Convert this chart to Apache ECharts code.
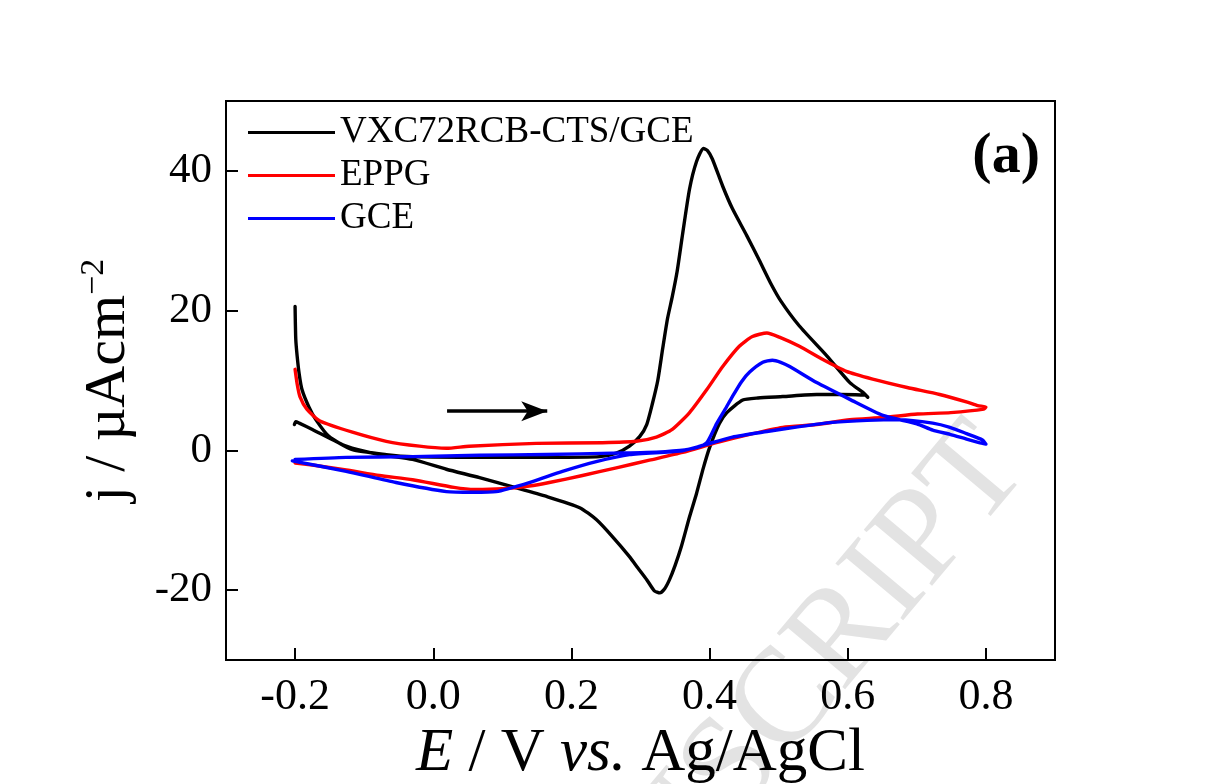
<!DOCTYPE html>
<html>
<head>
<meta charset="utf-8">
<script src="https://cdn.jsdelivr.net/npm/echarts@6/dist/echarts.min.js"></script>
<style>
  html, body { margin: 0; padding: 0; background: #fff; }
  #chart { width: 1217px; height: 784px; }
</style>
</head>
<body>
<div id="chart"></div>
<script>
// Cyclic voltammograms: potential E (V vs. Ag/AgCl) and current density j (µA cm^-2)
const seriesNames = ['VXC72RCB-CTS/GCE', 'EPPG', 'GCE'];
const seriesColors = ['#000000', '#ff0000', '#0000ff'];

// VXC72RCB-CTS/GCE: forward sweep from -0.2 V to 0.63 V, then back
const vxcCurve = [
  [-0.200, 20.6], [-0.199, 15.9], [-0.197, 13.5], [-0.194, 10.9], [-0.190, 8.7],
  [-0.180, 6.2], [-0.170, 4.4], [-0.151, 2.0], [-0.117, 0.1], [-0.068, -0.6],
  [-0.030, -0.9], [0.067, -1.0], [0.168, -1.0], [0.241, -0.9], [0.265, -0.4],
  [0.284, 0.6], [0.299, 2.0], [0.309, 3.7], [0.317, 6.6], [0.325, 10.0],
  [0.332, 14.5], [0.339, 18.8], [0.346, 22.0], [0.353, 25.6], [0.361, 31.0],
  [0.371, 37.4], [0.381, 41.3], [0.391, 43.2], [0.397, 42.9], [0.404, 41.7],
  [0.419, 37.8], [0.433, 34.6], [0.454, 30.7], [0.472, 27.2], [0.488, 24.0],
  [0.503, 21.4], [0.530, 17.8], [0.570, 13.5], [0.603, 9.7], [0.622, 8.3],
  [0.629, 7.6], [0.625, 7.9], [0.590, 8.0], [0.555, 8.0], [0.506, 7.7],
  [0.470, 7.5], [0.448, 7.2], [0.425, 5.4], [0.414, 3.8], [0.400, 0.4],
  [0.391, -2.5], [0.381, -6.2], [0.371, -9.5], [0.359, -13.8], [0.350, -16.5],
  [0.342, -18.5], [0.335, -19.8], [0.328, -20.4], [0.320, -20.1], [0.309, -18.5],
  [0.296, -16.8], [0.284, -15.2], [0.259, -12.3], [0.236, -9.9], [0.212, -8.2],
  [0.164, -6.6], [0.114, -5.2], [0.067, -3.9], [0.019, -2.7], [-0.030, -1.3],
  [-0.078, -0.6], [-0.126, 0.6], [-0.175, 3.0], [-0.194, 3.9], [-0.199, 4.1],
  [-0.201, 3.7]
];

// EPPG: -0.2 V to 0.8 V and back
const eppgCurve = [
  [-0.200, 11.6], [-0.197, 9.5], [-0.193, 7.7], [-0.183, 5.9], [-0.164, 4.2],
  [-0.117, 2.6], [-0.068, 1.3], [-0.020, 0.6], [0.019, 0.3], [0.052, 0.6],
  [0.149, 1.0], [0.245, 1.1], [0.294, 1.3], [0.323, 1.9], [0.346, 3.0],
  [0.371, 5.4], [0.396, 8.7], [0.419, 12.0], [0.443, 14.9], [0.462, 16.3],
  [0.483, 16.8], [0.501, 16.2], [0.530, 14.9], [0.564, 13.0], [0.598, 11.3],
  [0.636, 10.2], [0.686, 9.0], [0.733, 8.0], [0.773, 6.9], [0.788, 6.4],
  [0.800, 6.2], [0.797, 5.9], [0.749, 5.4], [0.701, 5.2], [0.651, 4.7],
  [0.603, 4.4], [0.555, 3.7], [0.506, 3.3], [0.458, 2.3], [0.410, 1.1],
  [0.361, -0.3], [0.313, -1.4], [0.265, -2.5], [0.216, -3.6], [0.168, -4.6],
  [0.139, -5.1], [0.100, -5.5], [0.060, -5.6], [0.030, -5.3], [-0.030, -4.2],
  [-0.078, -3.6], [-0.126, -2.8], [-0.175, -2.1], [-0.200, -1.8]
];

// GCE: -0.2 V to 0.8 V and back
const gceCurve = [
  [-0.200, -1.3], [-0.126, -1.0], [-0.030, -0.9], [0.067, -0.7], [0.164, -0.6],
  [0.259, -0.4], [0.309, -0.3], [0.357, 0.0], [0.381, 0.4], [0.396, 1.1],
  [0.410, 3.8], [0.422, 5.8], [0.433, 7.7], [0.446, 9.8], [0.458, 11.2],
  [0.477, 12.6], [0.491, 12.9], [0.503, 12.6], [0.516, 12.0], [0.555, 9.7],
  [0.603, 7.3], [0.651, 5.0], [0.700, 3.8], [0.723, 2.9], [0.748, 2.3],
  [0.772, 1.6], [0.790, 1.1], [0.800, 0.9], [0.795, 1.5], [0.772, 2.4],
  [0.748, 3.3], [0.723, 3.9], [0.675, 4.4], [0.628, 4.3], [0.578, 4.0],
  [0.530, 3.4], [0.483, 2.7], [0.433, 1.9], [0.386, 0.6], [0.357, -0.1],
  [0.284, -0.6], [0.236, -1.6], [0.187, -3.0], [0.139, -4.6], [0.091, -5.9],
  [0.057, -6.0], [0.019, -5.9], [-0.054, -4.6], [-0.126, -3.0], [-0.204, -1.5]
];

const xTicks = [-0.2, 0.0, 0.2, 0.4, 0.6, 0.8];
const yTicks = [-20, 0, 20, 40];

// Sweep-direction arrow, [E, j] of tail and head
const sweepArrow = [[0.020, 5.6], [0.165, 5.6]];

const curves = [vxcCurve, eppgCurve, gceCurve];
const serif = "'Liberation Serif', 'Times New Roman', Times, serif";

const chart = echarts.init(document.getElementById('chart'), null, { renderer: 'canvas' });

const series = curves.map((data, i) => ({
  name: seriesNames[i],
  type: 'line',
  data: data,
  showSymbol: false,
  symbol: 'none',
  smooth: 0.2,
  z: 3 + i,
  lineStyle: { color: seriesColors[i], width: 3.4, join: 'round', cap: 'round' },
  itemStyle: { color: seriesColors[i] },
  emphasis: { disabled: true }
}));

series[0].markLine = {
  silent: true,
  symbol: ['none', 'arrow'],
  symbolSize: [15, 26],
  label: { show: false },
  lineStyle: { color: '#000', width: 3.5, type: 'solid' },
  data: [[{ coord: sweepArrow[0] }, { coord: sweepArrow[1] }]]
};

chart.setOption({
  backgroundColor: '#ffffff',
  animation: false,
  grid: {
    left: 226, right: 162, top: 101, bottom: 124,
    outerBoundsMode: 'none',
    containLabel: false,
    show: true, borderColor: '#000', borderWidth: 2, backgroundColor: 'transparent'
  },
  legend: {
    orient: 'vertical',
    left: 243, top: 109,
    icon: 'rect',
    itemWidth: 87, itemHeight: 3,
    itemGap: 6,
    data: seriesNames,
    textStyle: { fontFamily: serif, fontSize: 37, color: '#000', lineHeight: 37 }
  },
  xAxis: {
    type: 'value',
    min: -0.3, max: 0.9,
    name: '{it|E} / V {it|vs.} Ag/AgCl',
    nameLocation: 'middle',
    nameGap: 59,
    nameTextStyle: {
      fontFamily: serif, fontSize: 61, color: '#000',
      rich: { it: { fontFamily: serif, fontSize: 61, fontStyle: 'italic', color: '#000' } }
    },
    splitLine: { show: false },
    axisLine: { show: true, onZero: false, lineStyle: { color: '#000', width: 2 } },
    axisTick: { show: true, inside: true, length: 12, lineStyle: { width: 2, color: '#000' }, customValues: xTicks },
    axisLabel: {
      show: true, margin: 15, fontFamily: serif, fontSize: 44, color: '#000',
      customValues: xTicks,
      formatter: v => v.toFixed(1)
    }
  },
  yAxis: {
    type: 'value',
    min: -30, max: 50,
    name: 'j / µAcm{sup|−2}',
    nameLocation: 'middle',
    nameGap: 85,
    nameRotate: 90,
    nameTextStyle: {
      fontFamily: serif, fontSize: 58, color: '#000',
      rich: { sup: { fontFamily: serif, fontSize: 34, color: '#000', verticalAlign: 'top', padding: [0, 0, 30, 0] } }
    },
    splitLine: { show: false },
    axisLine: { show: true, onZero: false, lineStyle: { color: '#000', width: 2 } },
    axisTick: { show: true, inside: true, length: 12, lineStyle: { width: 2, color: '#000' }, customValues: yTicks },
    axisLabel: {
      show: true, margin: 14, fontFamily: serif, fontSize: 43, color: '#000',
      customValues: yTicks,
      formatter: v => String(v)
    }
  },
  graphic: [
    {
      // diagonal manuscript watermark
      type: 'text',
      x: 1003, y: 446,
      rotation: 50 * Math.PI / 180,
      z: -10, zlevel: 0, silent: true,
      style: {
        text: 'ACCEPTED MANUSCRIPT',
        fontFamily: serif, fontSize: 135,
        fill: '#e3e3e3',
        align: 'right', verticalAlign: 'middle'
      }
    },
    {
      type: 'text',
      right: 177, top: 128,
      z: 10,
      style: {
        text: '(a)',
        fontFamily: serif, fontSize: 58, fontWeight: 'bold', fill: '#000'
      }
    }
  ],
  series: series
});
</script>
</body>
</html>
